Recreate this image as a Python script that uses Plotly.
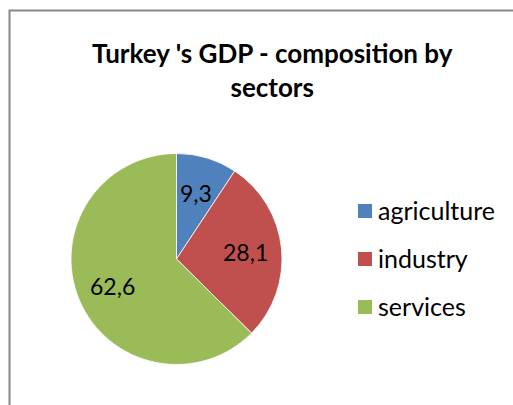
import math
import plotly.graph_objects as go

# Turkey GDP composition by sector (%)
sectors = ["agriculture", "industry", "services"]
shares = [9.3, 28.1, 62.6]
colors = ["#4F81BD", "#C0504D", "#9BBB59"]
title_text = "Turkey 's GDP - composition by<br>sectors"

W, H = 513, 405
FONT = "Lato"

# pie placement in pixels (center + radius)
cx_px, cy_px, r_px = 176.5, 259.0, 105.5

fig = go.Figure()
fig.add_trace(go.Pie(
    labels=sectors,
    values=shares,
    sort=False,
    direction="clockwise",
    rotation=0,
    marker=dict(colors=colors, line=dict(color="white", width=0.8)),
    textinfo="none",
    hoverinfo="label+value",
    showlegend=False,
    domain=dict(x=[(cx_px - r_px) / W, (cx_px + r_px) / W],
                y=[1 - (cy_px + r_px) / H, 1 - (cy_px - r_px) / H]),
))

# value labels placed along each slice's bisector
total = sum(shares)
start = 0.0
for v in shares:
    mid = (start + v / 2) / total * 2 * math.pi
    start += v
    px = cx_px + 0.655 * r_px * math.sin(mid)
    py = cy_px - 0.655 * r_px * math.cos(mid)
    fig.add_annotation(
        x=px / W, y=1 - py / H, xref="paper", yref="paper",
        text=f"{v:.1f}".replace(".", ","), showarrow=False,
        font=dict(family=FONT, size=23, color="black"),
        xanchor="center", yanchor="middle",
    )

# legend: colored square + label for each sector
leg_x0, leg_y0, leg_gap, sq = 358, 211, 48, 14
for i, (name, col) in enumerate(zip(sectors, colors)):
    yc = leg_y0 + i * leg_gap
    fig.add_shape(type="rect", xref="paper", yref="paper",
                  x0=leg_x0 / W, x1=(leg_x0 + sq) / W,
                  y0=1 - (yc + sq / 2) / H, y1=1 - (yc - sq / 2) / H,
                  fillcolor=col, line=dict(width=0))
    fig.add_annotation(x=(leg_x0 + sq + 4) / W, y=1 - (yc - 1) / H,
                       xref="paper", yref="paper", text=name,
                       showarrow=False, xanchor="left", yanchor="middle",
                       font=dict(family=FONT, size=25, color="black"))

# chart-area frame
fig.add_shape(type="rect", xref="paper", yref="paper",
              x0=9.5 / W, x1=1.05, y0=-0.05, y1=1 - 10.5 / H,
              line=dict(color="#878787", width=2), fillcolor="rgba(0,0,0,0)")

fig.add_annotation(x=272 / W, y=1 - 70 / H, xref="paper", yref="paper",
                   text=f"<b>{title_text}</b>", showarrow=False,
                   xanchor="center", yanchor="middle", align="center",
                   font=dict(family=FONT, size=26, color="black"))

fig.update_layout(
    width=W, height=H,
    margin=dict(l=0, r=0, t=0, b=0),
    paper_bgcolor="white", plot_bgcolor="white",
)

fig.write_html("out.html")
